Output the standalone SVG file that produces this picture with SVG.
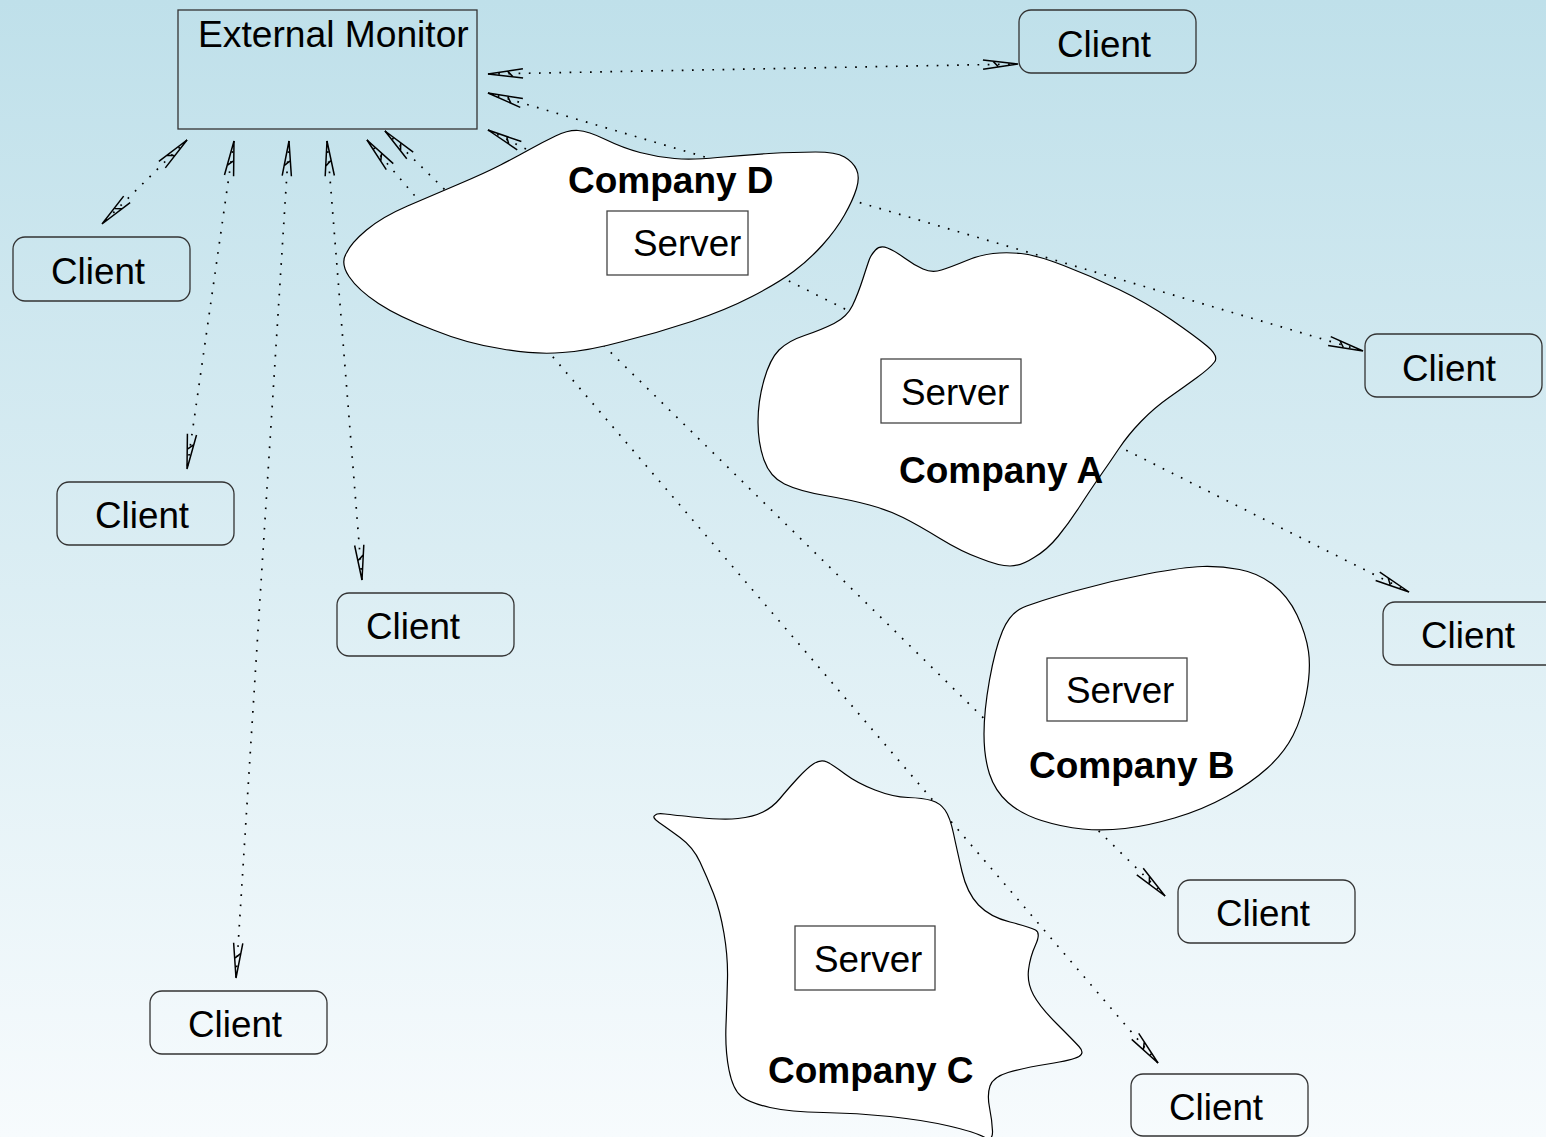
<svg xmlns="http://www.w3.org/2000/svg" width="1546" height="1137" viewBox="0 0 1546 1137">
  <defs>
    <linearGradient id="bg" x1="0" y1="0" x2="0" y2="1">
      <stop offset="0" stop-color="#bfe0ea"/>
      <stop offset="1" stop-color="#f7fbfd"/>
    </linearGradient>
    <!-- open, narrow arrowhead with a short crossbar -->
    <marker id="arr" viewBox="-40 -8 44 16" refX="0" refY="0" markerWidth="44" markerHeight="16" markerUnits="userSpaceOnUse" orient="auto-start-reverse">
      <path d="M-35,-4.6 L0,0 L-35,4.6 M-25,-3.3 L-20,2" fill="none" stroke="#000" stroke-width="1.5"/>
    </marker>
  </defs>
  <style>
    .conn { fill: none; stroke: #000; stroke-width: 1.7; stroke-dasharray: 1.7 8.5; marker-start: url(#arr); marker-end: url(#arr); }
    .cloud { fill: #fff; stroke: #000; stroke-width: 1.2; }
    .box { fill: none; stroke: #333; stroke-width: 1.3; }
    .server { fill: #fff; stroke: #444; stroke-width: 1.3; }
    .t { font-family: "Liberation Sans", Arial, sans-serif; font-size: 36.8px; fill: #000; }
    .b { font-weight: bold; font-size: 37px; }
  </style>

  <rect x="0" y="0" width="1546" height="1137" fill="url(#bg)"/>

  <!-- monitor/client links -->
  <g id="connectors">
    <line class="conn" x1="488" y1="74" x2="1018" y2="64"/>
    <line class="conn" x1="488" y1="93" x2="1363" y2="351"/>
    <line class="conn" x1="488" y1="130" x2="1409" y2="592"/>
    <line class="conn" x1="385" y1="131" x2="1165" y2="896"/>
    <line class="conn" x1="367" y1="140" x2="1158" y2="1063"/>
    <line class="conn" x1="327" y1="141" x2="362" y2="580"/>
    <line class="conn" x1="289" y1="141" x2="236" y2="978"/>
    <line class="conn" x1="234" y1="141" x2="187" y2="469"/>
    <line class="conn" x1="187" y1="140" x2="102" y2="224"/>
  </g>

  <g id="company-d">
    <path class="cloud" d="M346.5,253 Q351,243 366.5,230 Q382,217 407.5,206 Q433,195 459,184 Q485,173 500.5,165 Q516,157 529.5,149.5 Q543,142 555.5,136 Q568,130 578,130.5 Q588,131 605.5,139.5 Q623,148 640,152.5 Q657,157 674.5,158.5 Q692,160 717.5,157.5 Q743,155 769,153.5 Q795,152 815.5,152 Q836,152 844.5,157 Q853,162 856.5,169.5 Q860,177 856.5,188.5 Q853,200 844.5,215 Q836,230 822.5,245 Q809,260 793.5,271.5 Q778,283 752,296.5 Q726,310 691.5,321.5 Q657,333 622.5,341.5 Q588,351 562.5,352.5 Q537,355 502.5,349 Q468,344 433.5,330 Q399,317 378.5,303.5 Q358,290 349,276.5 Q340,263 346.5,253 Z"/>
    <text class="t b" x="568" y="193">Company D</text>
    <g id="server-d">
      <rect class="server" x="607" y="211" width="141" height="64"/>
      <text class="t" x="633" y="256">Server</text>
    </g>
  </g>

  <g id="company-a">
    <path class="cloud" d="M875.5,250 Q880,245 887.5,248 Q895,251 904.5,258 Q914,265 923,269 Q932,273 941.5,270 Q951,267 965.5,261 Q980,255 993,253.5 Q1006,252 1021,253.5 Q1036,255 1063.5,265.5 Q1091,276 1119,289.5 Q1147,303 1171,319.5 Q1195,336 1207,346 Q1219,356 1214.5,362 Q1210,368 1197,377.5 Q1184,387 1169,397.5 Q1154,408 1141,421.5 Q1128,435 1119,448.5 Q1110,462 1100.5,475.5 Q1091,489 1080,506 Q1069,523 1058,536.5 Q1047,550 1034,557.5 Q1021,566 1010,566 Q999,566 980.5,558.5 Q962,552 940,538.5 Q918,525 903,517.5 Q888,510 869.5,505 Q851,500 825,495.5 Q799,491 784.5,484 Q770,477 764,460 Q758,443 758,422 Q758,401 764,380 Q770,359 779,350 Q788,341 804.5,335.5 Q821,330 834,323.5 Q847,317 852.5,305.5 Q858,294 863,278.5 Q868,263 869.5,259 Q871,255 875.5,250 Z"/>
    <g id="server-a">
      <rect class="server" x="881" y="359" width="140" height="64"/>
      <text class="t" x="901" y="405">Server</text>
    </g>
    <text class="t b" x="899" y="483">Company A</text>
  </g>

  <g id="company-b">
    <path class="cloud" d="M1002.5,631 Q1010,613 1023,607.5 Q1036,602 1073,591.5 Q1110,581 1147,574 Q1184,567 1202.5,566.5 Q1221,566 1239.5,569.5 Q1258,573 1273,584.5 Q1288,596 1297,615 Q1306,634 1308.5,651.5 Q1311,669 1306.5,693.5 Q1302,718 1293,735.5 Q1284,753 1267.5,768 Q1251,783 1226.5,796.5 Q1202,810 1174.5,818 Q1147,826 1125,828.5 Q1103,831 1082.5,829 Q1062,827 1041.5,820.5 Q1021,814 1008,802.5 Q995,791 989.5,774 Q984,757 984,734 Q984,711 989.5,680 Q995,649 1002.5,631 Z"/>
    <g id="server-b">
      <rect class="server" x="1047" y="658" width="140" height="63"/>
      <text class="t" x="1066" y="703">Server</text>
    </g>
    <text class="t b" x="1029" y="778">Company B</text>
  </g>

  <g id="company-c">
    <path class="cloud" d="M814,763.5 Q821,759 827,762 Q833,765 845,774 Q857,783 875,790 Q893,797 908,797.5 Q923,798 931.5,800.5 Q940,803 945,810 Q950,817 953.5,833.5 Q957,850 962,871.5 Q967,893 978.5,905 Q990,917 1010,922 Q1030,927 1035.5,930 Q1041,933 1035.5,945 Q1030,957 1028.5,970 Q1027,983 1033.5,995 Q1040,1007 1056.5,1023.5 Q1073,1040 1079,1046.5 Q1085,1053 1079,1056.5 Q1073,1060 1048,1064 Q1023,1068 1008,1072.5 Q993,1077 990,1086 Q987,1095 989.5,1107.5 Q992,1120 992.5,1131 Q993,1142 984,1137 Q975,1132 949,1126 Q923,1120 890,1116.5 Q857,1113 823.5,1112.5 Q790,1112 770,1107.5 Q750,1103 741.5,1096.5 Q733,1090 729,1070 Q725,1050 726,1025 Q727,1000 727.5,978.5 Q728,957 724,933.5 Q720,910 713.5,893.5 Q707,877 700,862 Q693,847 680,837.5 Q667,828 659,822.5 Q651,817 655.5,815 Q657,813 665,814 Q673,815 698,817.5 Q723,820 738,818.5 Q753,817 763,812 Q773,807 780,798.5 Q787,790 797,779 Q807,768 814,763.5 Z"/>
    <g id="server-c">
      <rect class="server" x="795" y="926" width="140" height="64"/>
      <text class="t" x="814" y="972">Server</text>
    </g>
    <text class="t b" x="768" y="1083">Company C</text>
  </g>

  <g id="external-monitor">
    <rect class="box" x="178" y="10" width="299" height="119"/>
    <text class="t" style="font-size:37.2px" x="198" y="47">External Monitor</text>
  </g>

  <g id="client-1">
    <rect class="box" x="1019" y="10" width="177" height="63" rx="12"/>
    <text class="t" x="1057" y="57">Client</text>
  </g>
  <g id="client-2">
    <rect class="box" x="13" y="237" width="177" height="64" rx="12"/>
    <text class="t" x="51" y="284">Client</text>
  </g>
  <g id="client-3">
    <rect class="box" x="57" y="482" width="177" height="63" rx="12"/>
    <text class="t" x="95" y="528">Client</text>
  </g>
  <g id="client-4">
    <rect class="box" x="337" y="593" width="177" height="63" rx="12"/>
    <text class="t" x="366" y="639">Client</text>
  </g>
  <g id="client-5">
    <rect class="box" x="150" y="991" width="177" height="63" rx="12"/>
    <text class="t" x="188" y="1037">Client</text>
  </g>
  <g id="client-6">
    <rect class="box" x="1365" y="334" width="177" height="63" rx="12"/>
    <text class="t" x="1402" y="381">Client</text>
  </g>
  <g id="client-7">
    <rect class="box" x="1383" y="602" width="177" height="63" rx="12"/>
    <text class="t" x="1421" y="648">Client</text>
  </g>
  <g id="client-8">
    <rect class="box" x="1178" y="880" width="177" height="63" rx="12"/>
    <text class="t" x="1216" y="926">Client</text>
  </g>
  <g id="client-9">
    <rect class="box" x="1131" y="1074" width="177" height="62" rx="12"/>
    <text class="t" x="1169" y="1120">Client</text>
  </g>
</svg>
